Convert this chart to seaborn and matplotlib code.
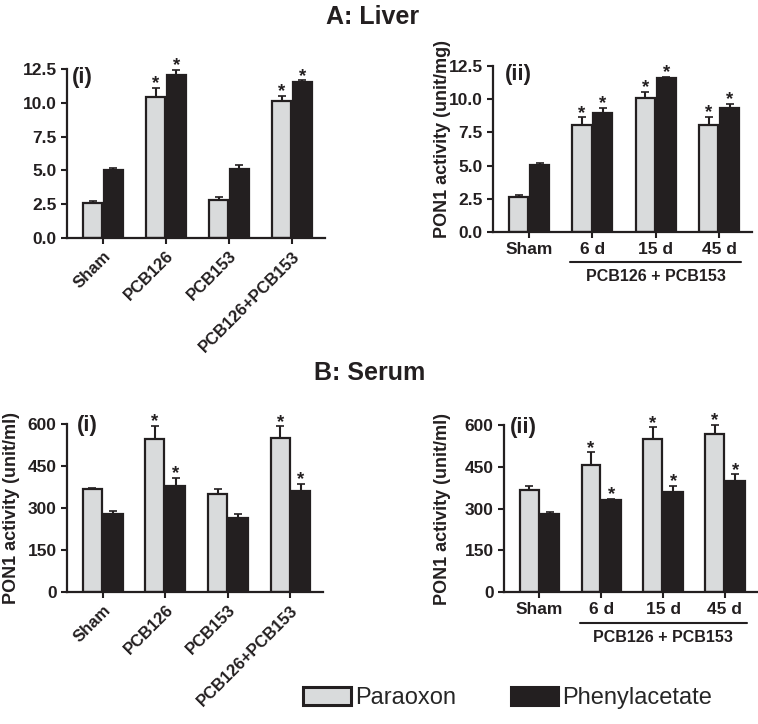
import seaborn as sns
import matplotlib.pyplot as plt
import matplotlib.transforms as mtransforms
from matplotlib.patches import Patch
import pandas as pd

# categories
treatments = ["Sham", "PCB126", "PCB153", "PCB126+PCB153"]
timepoints = ["Sham", "6 d", "15 d", "45 d"]
substrates = ["Paraoxon", "Phenylacetate"]

# A(i) liver, treatments
liver_trt_parox = [2.6, 10.4, 2.8, 10.1]
liver_trt_parox_err = [0.14, 0.7, 0.23, 0.4]
liver_trt_phenyl = [5.0, 12.05, 5.1, 11.55]
liver_trt_phenyl_err = [0.15, 0.37, 0.3, 0.12]
liver_trt_sig_parox = [False, True, False, True]
liver_trt_sig_phenyl = [False, True, False, True]

# A(ii) liver, time course
liver_time_parox = [2.6, 8.05, 10.1, 8.05]
liver_time_parox_err = [0.18, 0.57, 0.43, 0.62]
liver_time_phenyl = [5.05, 8.97, 11.6, 9.37]
liver_time_phenyl_err = [0.17, 0.38, 0.08, 0.3]
liver_time_sig_parox = [False, True, True, True]
liver_time_sig_phenyl = [False, True, True, True]

# B(i) serum, treatments
serum_trt_parox = [367, 546, 349, 550]
serum_trt_parox_err = [4, 48, 18, 42]
serum_trt_phenyl = [280, 380, 264, 362]
serum_trt_phenyl_err = [9, 28, 14, 24]
serum_trt_sig_parox = [False, True, False, True]
serum_trt_sig_phenyl = [False, True, False, True]

# B(ii) serum, time course
serum_time_parox = [366, 456, 550, 566]
serum_time_parox_err = [16, 46, 42, 34]
serum_time_phenyl = [280, 332, 359, 400]
serum_time_phenyl_err = [9, 3, 23, 23]
serum_time_sig_parox = [False, True, True, True]
serum_time_sig_phenyl = [False, True, True, True]

liver_ticks = [0, 2.5, 5.0, 7.5, 10.0, 12.5]
serum_ticks = [0, 150, 300, 450, 600]

light = "#d9dbdc"
dark = "#231f20"
edge = "#231f20"

sns.set_style("ticks")
plt.rcParams["font.family"] = ["Liberation Sans", "DejaVu Sans"]
plt.rcParams["font.weight"] = "bold"
plt.rcParams["axes.labelweight"] = "bold"


def draw_panel(ax, cats, parox, parox_err, phenyl, phenyl_err, sig_parox, sig_phenyl,
               ticks, fmt, rotate):
    df = pd.DataFrame({
        "group": cats + cats,
        "substrate": [substrates[0]] * len(cats) + [substrates[1]] * len(cats),
        "value": parox + phenyl,
    })
    sns.barplot(data=df, x="group", y="value", hue="substrate", order=cats,
                hue_order=substrates, palette=[light, dark], saturation=1,
                width=0.66, gap=0.08, edgecolor=edge, linewidth=1.6,
                errorbar=None, legend=False, ax=ax)
    errs = [parox_err, phenyl_err]
    sigs = [sig_parox, sig_phenyl]
    for p in ax.patches:
        xc = p.get_x() + p.get_width() / 2
        i = int(round(xc))
        h_idx = 0 if xc < i else 1
        top = p.get_height()
        e = errs[h_idx][i]
        ax.errorbar(xc, top, yerr=[[0], [e]], color=edge, lw=1.5, capsize=3,
                    capthick=1.2, clip_on=False)
        if sigs[h_idx][i]:
            ax.annotate("*", (xc, top + e), xytext=(0, -0.3), textcoords="offset points",
                        ha="center", va="baseline", fontsize=13.5, fontweight="bold",
                        annotation_clip=False, color=edge)
    ax.set_ylim(0, ticks[-1])
    ax.set_yticks(ticks)
    ax.set_yticklabels([fmt.format(t) for t in ticks])
    ax.set_xlim(-0.57, 3.52)
    ax.set_xlabel("")
    ax.set_ylabel("")
    sns.despine(ax=ax)
    for s in ["left", "bottom"]:
        ax.spines[s].set_linewidth(1.6)
        ax.spines[s].set_color(edge)
    ax.tick_params(axis="both", width=1.5, length=4, color=edge, labelsize=12.5,
                   labelcolor=edge)
    if rotate:
        ax.set_xticks(range(len(cats)))
        ax.set_xticklabels(cats, rotation=45, ha="right", va="top",
                           rotation_mode="anchor", fontsize=12)


def group_bar(ax, y_line, y_text):
    trans = mtransforms.blended_transform_factory(ax.transData, ax.transAxes)
    ax.plot([0.65, 3.35], [y_line, y_line], transform=trans, clip_on=False,
            color=edge, lw=1.5)
    ax.text(2.0, y_text, "PCB126 + PCB153", transform=trans, ha="center",
            va="center", fontsize=11.5, fontweight="bold", color=edge)


fig = plt.figure(figsize=(7.58, 7.24), dpi=100)
ax1 = fig.add_axes([0.0884, 0.6713, 0.340, 0.2334])
ax2 = fig.add_axes([0.6504, 0.6796, 0.3417, 0.2293])
ax3 = fig.add_axes([0.0884, 0.1823, 0.3377, 0.232])
ax4 = fig.add_axes([0.665, 0.1823, 0.3338, 0.2307])

draw_panel(ax1, treatments, liver_trt_parox, liver_trt_parox_err, liver_trt_phenyl,
           liver_trt_phenyl_err, liver_trt_sig_parox, liver_trt_sig_phenyl,
           liver_ticks, "{:.1f}", True)
draw_panel(ax2, timepoints, liver_time_parox, liver_time_parox_err, liver_time_phenyl,
           liver_time_phenyl_err, liver_time_sig_parox, liver_time_sig_phenyl,
           liver_ticks, "{:.1f}", False)
draw_panel(ax3, treatments, serum_trt_parox, serum_trt_parox_err, serum_trt_phenyl,
           serum_trt_phenyl_err, serum_trt_sig_parox, serum_trt_sig_phenyl,
           serum_ticks, "{:.0f}", True)
draw_panel(ax4, timepoints, serum_time_parox, serum_time_parox_err, serum_time_phenyl,
           serum_time_phenyl_err, serum_time_sig_parox, serum_time_sig_phenyl,
           serum_ticks, "{:.0f}", False)

ax2.set_ylabel("PON1 activity (unit/mg)", fontsize=13, color=edge)
ax2.yaxis.set_label_coords(-0.162, 0.56)
ax3.set_ylabel("PON1 activity (unit/ml)", fontsize=13, color=edge)
ax3.yaxis.set_label_coords(-0.184, 0.5)
ax4.set_ylabel("PON1 activity (unit/ml)", fontsize=13, color=edge)
ax4.yaxis.set_label_coords(-0.209, 0.5)

group_bar(ax2, -0.18, -0.27)
group_bar(ax4, -0.186, -0.27)

ax1.text(0.02, 1.01, "(i)", transform=ax1.transAxes, va="top", ha="left",
         fontsize=16, fontweight="bold", color=edge)
ax2.text(0.046, 1.01, "(ii)", transform=ax2.transAxes, va="top", ha="left",
         fontsize=16, fontweight="bold", color=edge)
ax3.text(0.04, 1.054, "(i)", transform=ax3.transAxes, va="top", ha="left",
         fontsize=16, fontweight="bold", color=edge)
ax4.text(0.024, 1.05, "(ii)", transform=ax4.transAxes, va="top", ha="left",
         fontsize=16, fontweight="bold", color=edge)

fig.text(0.491, 1 - 17 / 724, "A: Liver", ha="center", va="center", fontsize=18,
         fontweight="bold", color=edge)
fig.text(0.487, 1 - 373 / 724, "B: Serum", ha="center", va="center", fontsize=18,
         fontweight="bold", color=edge)

handles = [Patch(facecolor=light, edgecolor=edge, linewidth=2.2),
           Patch(facecolor=dark, edgecolor=edge, linewidth=2.2)]
fig.legend(handles=handles, labels=substrates, loc="center", bbox_to_anchor=(0.67, 0.036),
           ncol=2, frameon=False, prop={"size": 17, "weight": "normal"},
           handlelength=2.0, handleheight=0.8, handletextpad=0.2, columnspacing=2.3)

fig.savefig("out.png", dpi=100)
